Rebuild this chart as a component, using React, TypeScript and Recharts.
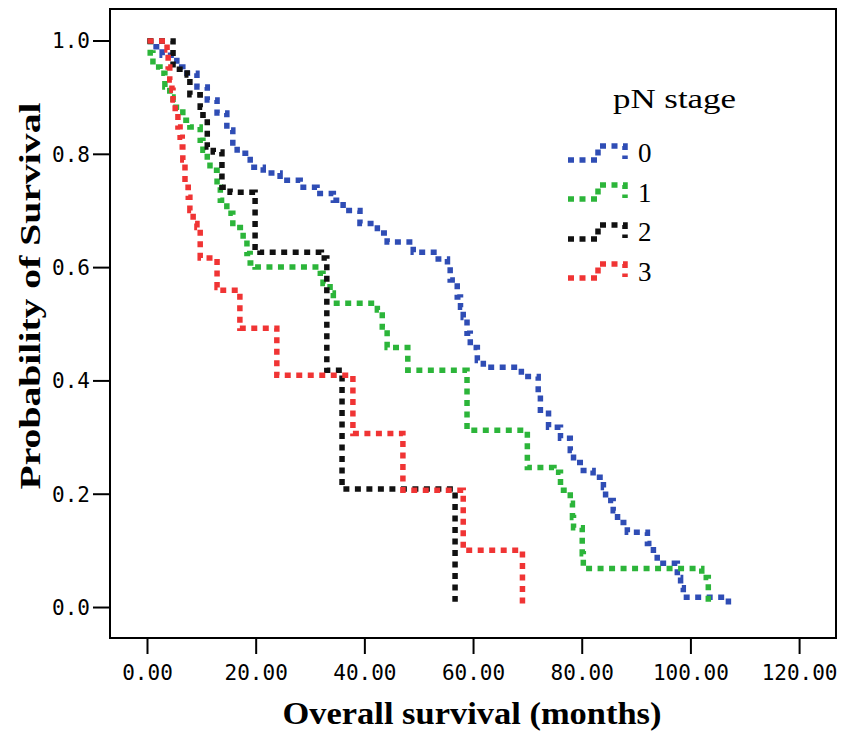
import React from "react";
import {
  Legend,
  Line,
  LineChart,
  ReferenceArea,
  XAxis,
  YAxis,
} from "recharts";

type Pt = { t: number; s: number };

const xTicks = [0, 20, 40, 60, 80, 100, 120];
const yTicks = [0, 0.2, 0.4, 0.6, 0.8, 1.0];

const stage0: Pt[] = [
  { t: 0, s: 1 }, { t: 0.5, s: 0.99 }, { t: 2.7, s: 0.975 }, { t: 5.4, s: 0.954 },
  { t: 6.5, s: 0.943 }, { t: 9.1, s: 0.919 }, { t: 11.0, s: 0.896 }, { t: 12.8, s: 0.873 },
  { t: 14.6, s: 0.843 }, { t: 15.7, s: 0.82 }, { t: 16.5, s: 0.802 }, { t: 18.9, s: 0.777 },
  { t: 21.3, s: 0.767 }, { t: 24.4, s: 0.754 }, { t: 28.1, s: 0.742 }, { t: 31.2, s: 0.731 },
  { t: 34.2, s: 0.719 }, { t: 36.0, s: 0.701 }, { t: 39.1, s: 0.678 }, { t: 42.3, s: 0.661 },
  { t: 44.1, s: 0.645 }, { t: 48.9, s: 0.627 }, { t: 53.5, s: 0.615 }, { t: 55.2, s: 0.601 },
  { t: 55.7, s: 0.578 }, { t: 57.0, s: 0.548 }, { t: 57.6, s: 0.53 }, { t: 58.1, s: 0.512 },
  { t: 58.8, s: 0.484 }, { t: 59.4, s: 0.459 }, { t: 60.7, s: 0.436 }, { t: 61.8, s: 0.424 },
  { t: 68.8, s: 0.408 }, { t: 71.9, s: 0.378 }, { t: 72.3, s: 0.343 }, { t: 73.8, s: 0.318 },
  { t: 76.0, s: 0.299 }, { t: 77.8, s: 0.277 }, { t: 78.4, s: 0.256 }, { t: 80.2, s: 0.242 },
  { t: 82.0, s: 0.23 }, { t: 83.9, s: 0.212 }, { t: 84.3, s: 0.189 }, { t: 85.7, s: 0.171 },
  { t: 86.5, s: 0.15 }, { t: 88.3, s: 0.133 }, { t: 92.0, s: 0.113 }, { t: 93.1, s: 0.095 },
  { t: 93.8, s: 0.078 }, { t: 97.5, s: 0.053 }, { t: 98.1, s: 0.035 }, { t: 98.6, s: 0.018 },
  { t: 106.9, s: 0.003 },
];

const stage1: Pt[] = [
  { t: 0, s: 1 }, { t: 0.5, s: 0.979 }, { t: 1.0, s: 0.954 }, { t: 2.3, s: 0.943 },
  { t: 3.2, s: 0.919 }, { t: 4.1, s: 0.901 }, { t: 4.7, s: 0.883 }, { t: 6.5, s: 0.86 },
  { t: 7.8, s: 0.848 }, { t: 9.7, s: 0.825 }, { t: 10.2, s: 0.807 }, { t: 11.0, s: 0.79 },
  { t: 11.5, s: 0.772 }, { t: 12.8, s: 0.742 }, { t: 13.4, s: 0.719 }, { t: 14.6, s: 0.696 },
  { t: 15.7, s: 0.671 }, { t: 17.6, s: 0.648 }, { t: 18.3, s: 0.625 }, { t: 18.9, s: 0.608 },
  { t: 19.8, s: 0.601 }, { t: 31.8, s: 0.59 }, { t: 32.3, s: 0.572 }, { t: 33.6, s: 0.555 },
  { t: 34.2, s: 0.537 }, { t: 42.3, s: 0.525 }, { t: 43.2, s: 0.495 }, { t: 44.1, s: 0.459 },
  { t: 47.9, s: 0.419 }, { t: 58.8, s: 0.313 }, { t: 69.9, s: 0.247 }, { t: 74.8, s: 0.239 },
  { t: 76.0, s: 0.207 }, { t: 77.8, s: 0.184 }, { t: 78.2, s: 0.159 }, { t: 78.4, s: 0.141 },
  { t: 80.0, s: 0.095 }, { t: 80.2, s: 0.069 }, { t: 102.0, s: 0.053 }, { t: 103.2, s: 0.01 },
];

const stage2: Pt[] = [
  { t: 0, s: 1 }, { t: 4.7, s: 0.95 }, { t: 7.3, s: 0.94 }, { t: 7.8, s: 0.905 },
  { t: 9.7, s: 0.883 }, { t: 10.2, s: 0.869 }, { t: 11.0, s: 0.813 }, { t: 12.1, s: 0.804 },
  { t: 13.7, s: 0.742 }, { t: 15.2, s: 0.733 }, { t: 19.8, s: 0.636 }, { t: 20.7, s: 0.627 },
  { t: 32.0, s: 0.617 }, { t: 33.0, s: 0.419 }, { t: 35.8, s: 0.209 }, { t: 56.6, s: 0.01 },
];

const stage3: Pt[] = [
  { t: 0, s: 1 }, { t: 3.6, s: 0.984 }, { t: 3.8, s: 0.954 }, { t: 4.1, s: 0.931 },
  { t: 4.5, s: 0.913 }, { t: 4.7, s: 0.896 }, { t: 5.1, s: 0.873 }, { t: 5.6, s: 0.848 },
  { t: 6.0, s: 0.83 }, { t: 6.4, s: 0.813 }, { t: 6.5, s: 0.79 }, { t: 6.9, s: 0.742 },
  { t: 7.5, s: 0.724 }, { t: 7.8, s: 0.701 }, { t: 8.4, s: 0.678 }, { t: 9.1, s: 0.671 },
  { t: 9.7, s: 0.617 }, { t: 12.8, s: 0.565 }, { t: 13.9, s: 0.56 }, { t: 17.0, s: 0.493 },
  { t: 23.8, s: 0.41 }, { t: 37.8, s: 0.307 }, { t: 47.0, s: 0.207 }, { t: 58.1, s: 0.101 },
  { t: 69.0, s: 0.0 },
];

const series = [
  { name: "0", color: "#2f4db5", data: stage0 },
  { name: "1", color: "#2cb53a", data: stage1 },
  { name: "2", color: "#111111", data: stage2 },
  { name: "3", color: "#f03434", data: stage3 },
];

// frame edges expressed in data units
const X_MIN = -6.9;
const X_MAX = 126.7;
const Y_MIN = -0.0538;
const Y_MAX = 1.0565;

const DASH = "6 5.5";

function LegendBox() {
  return (
    <div style={{ fontFamily: "'Liberation Serif', serif", color: "#000" }}>
      <div style={{ marginLeft: 45, height: 40 }}>
        <svg width={130} height={40} style={{ overflow: "visible" }}>
          <text x={0} y={30} fontSize={27} textLength={123} lengthAdjust="spacingAndGlyphs">
            pN stage
          </text>
        </svg>
      </div>
      <div style={{ marginTop: 16 }}>
        {series.map((s) => (
          <div key={s.name} style={{ display: "flex", alignItems: "center", height: 39.5 }}>
            <svg width={70} height={24}>
              <path
                d="M0,18 H30 V4 H57 V17"
                fill="none"
                stroke={s.color}
                strokeWidth={5.5}
                strokeDasharray={DASH}
              />
            </svg>
            <span style={{ fontSize: 27 }}>{s.name}</span>
          </div>
        ))}
      </div>
    </div>
  );
}

export default function App() {
  return (
    <div style={{ position: "absolute", left: 0, top: 0, width: 844, height: 733, background: "#fff" }}>
      <LineChart
        width={844}
        height={733}
        margin={{ top: 9, right: 8, bottom: 0, left: 0 }}
      >
        <XAxis
          type="number"
          dataKey="t"
          domain={[X_MIN, X_MAX]}
          allowDataOverflow
          ticks={xTicks}
          tickFormatter={(v: number) => v.toFixed(2)}
          height={95}
          axisLine={false}
          tickSize={16}
          tickMargin={11}
          tickLine={{ stroke: "#000", strokeWidth: 2 }}
          tick={{ fontFamily: "'DejaVu Sans Mono', monospace", fontSize: 21, fill: "#000" }}
        />
        <YAxis
          type="number"
          dataKey="s"
          domain={[Y_MIN, Y_MAX]}
          allowDataOverflow
          ticks={yTicks}
          tickFormatter={(v: number) => v.toFixed(1)}
          width={110}
          axisLine={false}
          tickSize={17}
          tickMargin={3}
          tickLine={{ stroke: "#000", strokeWidth: 2 }}
          tick={{ fontFamily: "'DejaVu Sans Mono', monospace", fontSize: 21, fill: "#000" }}
        />
        <ReferenceArea
          x1={X_MIN}
          x2={X_MAX}
          y1={Y_MIN}
          y2={Y_MAX}
          fill="none"
          stroke="#000"
          strokeWidth={2}
          ifOverflow="visible"
        />
        {series.map((s) => (
          <Line
            key={s.name}
            data={s.data}
            dataKey="s"
            name={s.name}
            type="stepAfter"
            stroke={s.color}
            strokeWidth={5.5}
            strokeDasharray={DASH}
            dot={false}
            activeDot={false}
            isAnimationActive={false}
          />
        ))}
        <Legend
          layout="vertical"
          align="center"
          verticalAlign="middle"
          content={() => <LegendBox />}
          wrapperStyle={{ left: 568, top: 78, width: 200 }}
        />
      </LineChart>
      <svg
        width={844}
        height={733}
        style={{ position: "absolute", left: 0, top: 0, pointerEvents: "none" }}
      >
        <text
          x={472}
          y={724}
          textAnchor="middle"
          fontFamily="'Liberation Serif', serif"
          fontWeight="bold"
          fontSize={31}
          textLength={379}
          lengthAdjust="spacingAndGlyphs"
        >
          Overall survival (months)
        </text>
        <text
          transform="translate(40,296) rotate(-90)"
          textAnchor="middle"
          fontFamily="'Liberation Serif', serif"
          fontWeight="bold"
          fontSize={30}
          textLength={387}
          lengthAdjust="spacingAndGlyphs"
        >
          Probability of Survival
        </text>
      </svg>
    </div>
  );
}
